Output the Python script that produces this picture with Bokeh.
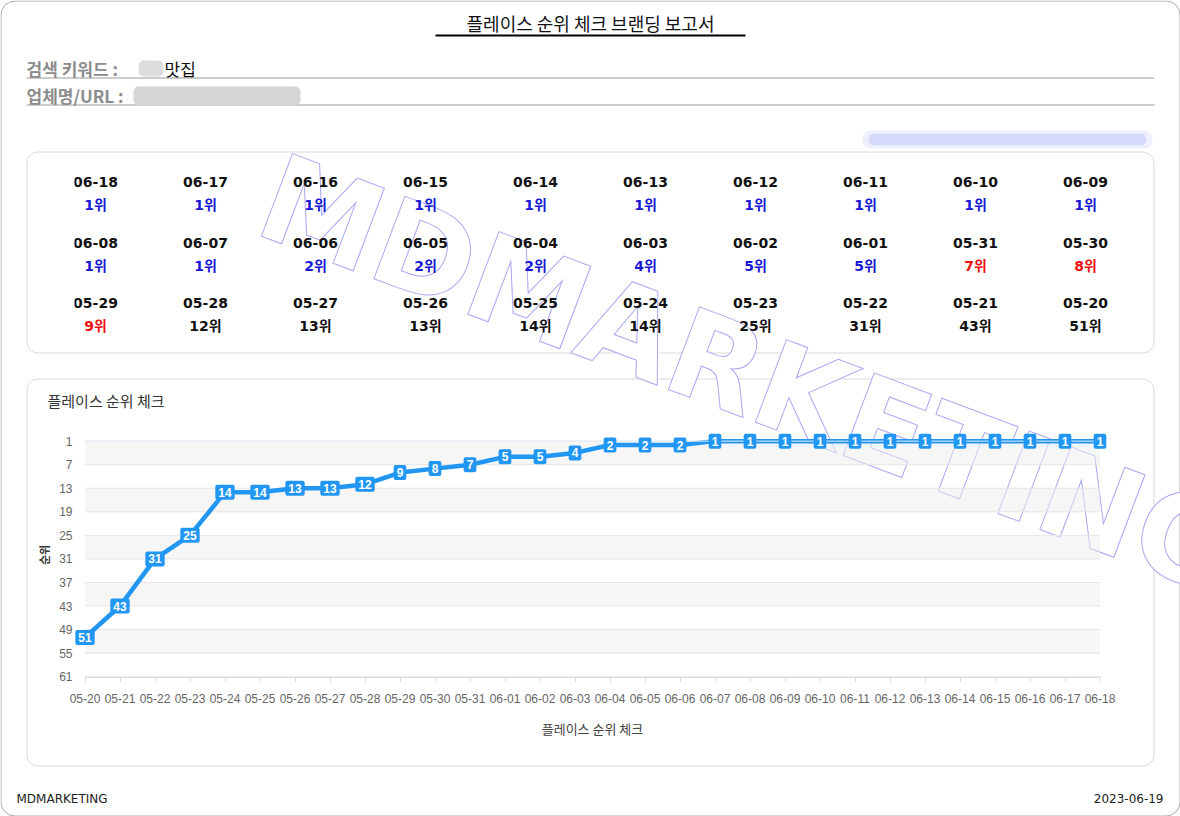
from bokeh.plotting import figure
from bokeh.models import Range1d, FixedTicker, GridBox
from bokeh.core.properties import value
from bokeh.embed import file_html
from bokeh.resources import INLINE

# ---------------- data ----------------
report_title = "플레이스 순위 체크 브랜딩 보고서"
keyword_label = "검색 키워드 : "
keyword_value = "맛집"
store_label = "업체명/URL : "
chart_title = "플레이스 순위 체크"
x_axis_title = "플레이스 순위 체크"
y_axis_title = "순위"
footer_left = "MDMARKETING"
footer_right = "2023-06-19"
watermark = "MDMARKETING"

dates = ["05-20", "05-21", "05-22", "05-23", "05-24", "05-25", "05-26", "05-27",
         "05-28", "05-29", "05-30", "05-31", "06-01", "06-02", "06-03", "06-04",
         "06-05", "06-06", "06-07", "06-08", "06-09", "06-10", "06-11", "06-12",
         "06-13", "06-14", "06-15", "06-16", "06-17", "06-18"]
ranks = [51, 43, 31, 25, 14, 14, 13, 13, 12, 9, 8, 7, 5, 5, 4, 2,
         2, 2, 1, 1, 1, 1, 1, 1, 1, 1, 1, 1, 1, 1]
y_ticks = [1, 7, 13, 19, 25, 31, 37, 43, 49, 55, 61]

# ---------------- styles ----------------
KR = "Noto Sans CJK KR"
ARIAL = "Liberation Sans"
BLUE = "#2196f3"
W, H = 1180, 816


def clean(p):
    p.background_fill_alpha = 0
    p.border_fill_alpha = 0
    p.outline_line_color = None
    for g in p.grid:
        g.visible = False


# ---------------- page (decorations + header) ----------------
page = figure(width=W, height=H, x_range=Range1d(0, W), y_range=Range1d(H, 0),
              output_backend="svg", toolbar_location=None,
              x_axis_type=None, y_axis_type=None, min_border=0)
page.background_fill_color = "white"
page.border_fill_color = "white"
page.outline_line_color = None
for g in page.grid:
    g.visible = False

# outer frame and cards
page.quad(left=[0.5], right=[W - 0.5], top=[0.5], bottom=[H - 0.5],
          fill_color=None, line_color="#a8a8a8", line_width=1, border_radius=14)
page.quad(left=[26.5, 26.5], right=[1153.5, 1153.5], top=[151.5, 378.5], bottom=[352.5, 765.5],
          fill_color="white", line_color="#dadada", line_width=1, border_radius=11)

# header
page.text(x=[590], y=[22], text=[report_title], text_font=value(KR), text_font_size="18px",
          text_align="center", text_baseline="middle", text_color="#111111")
page.segment(x0=[435], x1=[745], y0=[35], y1=[35], line_color="black", line_width=2)

page.segment(x0=[26, 26], x1=[1154, 1154], y0=[77.5, 104.5], y1=[77.5, 104.5],
             line_color="#9a9a9a", line_width=1)
page.text(x=[26], y=[68], text=[keyword_label], text_font=value(KR), text_font_size="17px",
          text_font_style="bold", text_align="left", text_baseline="middle", text_color="#8c8c8c")
page.text(x=[26], y=[95], text=[store_label], text_font=value(KR), text_font_size="17px",
          text_font_style="bold", text_align="left", text_baseline="middle", text_color="#8c8c8c")
# blurred (censored) parts
page.quad(left=[138], right=[163], top=[60], bottom=[76], fill_color="#dddddd",
          line_color=None, border_radius=5)
page.quad(left=[133], right=[300], top=[86], bottom=[105], fill_color="#d6d6d6",
          line_color=None, border_radius=5)
page.quad(left=[862], right=[1152], top=[130], bottom=[148], fill_color="#eef0fd",
          line_color=None, border_radius=8)
page.quad(left=[868], right=[1146], top=[133], bottom=[145], fill_color="#d6d9f9",
          line_color=None, border_radius=6)
page.text(x=[164], y=[68], text=[keyword_value], text_font=value(KR), text_font_size="17px",
          text_align="left", text_baseline="middle", text_color="#111111")

# watermark
page.text(x=[265], y=[193], text=[watermark], angle=-0.36,
          text_font=value("DejaVu Sans"), text_font_style="bold", text_font_size="121px",
          text_align="left", text_baseline="alphabetic", text_color="white",
          text_outline_color="#aaaaf2")

# chart title and footer
page.text(x=[47], y=[400], text=[chart_title], text_font=value(KR), text_font_size="15px",
          text_align="left", text_baseline="middle", text_color="#333333")
page.text(x=[16], y=[798], text=[footer_left], text_font=value("DejaVu Sans"), text_font_size="12px",
          text_align="left", text_baseline="middle", text_color="#222222")
page.text(x=[1163], y=[798], text=[footer_right], text_font=value("DejaVu Sans"), text_font_size="12px",
          text_align="right", text_baseline="middle", text_color="#222222")

# ---------------- rank grid card ----------------
# frame of this figure is aligned with the chart frame (left 48, right 44)
grid = figure(width=1128, height=202, x_range=Range1d(-0.1909, 9.2273), y_range=Range1d(2.658, -0.708),
              output_backend="svg", toolbar_location=None,
              x_axis_type=None, y_axis_type=None, min_border=0,
              min_border_left=48, min_border_right=44)
clean(grid)
g_dates = dates[::-1]
g_ranks = ranks[::-1]
g_col = [i % 10 for i in range(len(g_dates))]
g_row = [i // 10 for i in range(len(g_dates))]
g_text = [f"{r}위" for r in g_ranks]
g_color = ["#1717d6" if r <= 5 else ("#ee1111" if r < 10 else "#111111") for r in g_ranks]
grid.text(x=g_col, y=g_row, text=g_dates, y_offset=-11.5, text_font=value("DejaVu Sans"),
          text_font_style="bold", text_font_size="14px", text_align="center",
          text_baseline="middle", text_color="#111111")
grid.text(x=g_col, y=g_row, text=g_text, y_offset=11.5,
          text_font=value("DejaVu Sans, Noto Sans CJK KR"),
          text_font_style="bold", text_font_size="14px", text_align="center",
          text_baseline="middle", text_color=g_color)

# ---------------- line chart ----------------
n = len(dates)
idx = list(range(n))
chart = figure(width=1128, height=388, x_range=Range1d(-0.3, n - 1 + 0.3),
               y_range=Range1d(61.2, -1.2), output_backend="svg", toolbar_location=None,
               min_border_left=48, min_border_right=44, min_border_top=54, min_border_bottom=89)
clean(chart)

band_lo = y_ticks[0::2]
band_hi = y_ticks[1::2]
chart.hbar(y=[(a + b) / 2 for a, b in zip(band_lo, band_hi)],
           height=[b - a for a, b in zip(band_lo, band_hi)],
           left=0, right=n - 1, fill_color="#eeeeee", fill_alpha=0.5, line_color=None)
chart.segment(x0=[0] * len(y_ticks), x1=[n - 1] * len(y_ticks), y0=y_ticks, y1=y_ticks,
              line_color="#e6e6e6", line_width=1)

chart.line(x=idx, y=ranks, line_color=BLUE, line_width=4.5, line_join="round")
chart.segment(x0=[0], x1=[n - 1], y0=[y_ticks[0]], y1=[y_ticks[0]],
              line_color="#e3eefb", line_width=1)
chart.text(x=idx, y=ranks, text=[str(r) for r in ranks], text_color="white",
           text_font=value(ARIAL), text_font_style="bold", text_font_size="12px",
           text_align="center", text_baseline="middle",
           background_fill_color=BLUE, padding=3, border_radius=2)

xa = chart.xaxis[0]
xa.ticker = FixedTicker(ticks=idx)
xa.major_label_overrides = {i: d for i, d in enumerate(dates)}
xa.bounds = (0, n - 1)
xa.axis_line_color = "#dcdcdc"
xa.major_tick_line_color = "#dcdcdc"
xa.minor_tick_line_color = None
xa.major_tick_in = 0
xa.major_tick_out = 5
xa.major_label_standoff = 11
xa.major_label_text_font = ARIAL
xa.major_label_text_font_size = "12px"
xa.major_label_text_color = "#666666"
xa.axis_label = x_axis_title
xa.axis_label_text_font = KR
xa.axis_label_text_font_size = "13px"
xa.axis_label_text_font_style = "normal"
xa.axis_label_text_color = "#444444"
xa.axis_label_standoff = 13

ya = chart.yaxis[0]
ya.ticker = FixedTicker(ticks=y_ticks)
ya.axis_line_color = None
ya.major_tick_line_color = None
ya.minor_tick_line_color = None
ya.major_tick_in = 0
ya.major_tick_out = 0
ya.minor_tick_in = 0
ya.minor_tick_out = 0
ya.major_label_standoff = 2
ya.major_label_text_font = ARIAL
ya.major_label_text_font_size = "12px"
ya.major_label_text_color = "#666666"
ya.axis_label = y_axis_title
ya.axis_label_text_font = KR
ya.axis_label_text_font_size = "11px"
ya.axis_label_text_font_style = "bold"
ya.axis_label_text_color = "#333333"
ya.axis_label_standoff = 4

layout = GridBox(children=[(page, 0, 0, 5, 3), (grid, 1, 1), (chart, 3, 1)],
                 rows=["151px", "202px", "25px", "388px", "50px"],
                 cols=["26px", "1128px", "26px"])

open("out.html", "w").write(file_html(layout, INLINE))
